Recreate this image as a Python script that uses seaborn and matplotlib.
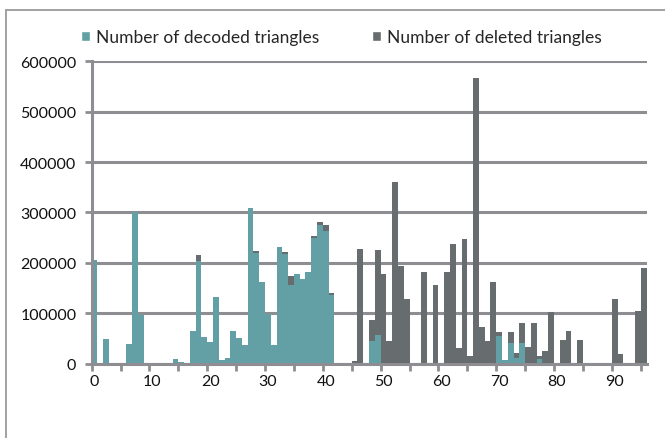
import numpy as np
import seaborn as sns
import matplotlib
matplotlib.use('Agg')
import matplotlib.pyplot as plt
from matplotlib.patches import Patch, Rectangle

# category index 0..95
positions = list(range(96))

# decoded triangles (teal)
decoded = [
    205000, 0, 48000, 0, 0, 0, 39000, 300000, 96000, 0,
    0, 0, 0, 0, 8000, 3000, 1000, 64000, 204000, 53000,
    42000, 133000, 6000, 11000, 65000, 51000, 37000, 308000, 220000, 161000,
    98000, 37000, 232000, 217000, 156000, 178000, 168000, 181000, 250000, 274000,
    264000, 136000, 0, 0, 0, 0, 0, 0, 45000, 56000,
    0, 0, 0, 0, 0, 0, 0, 0, 0, 0,
    0, 0, 0, 0, 0, 0, 0, 0, 0, 0,
    54000, 6000, 40000, 11000, 40000, 0, 0, 9000, 0, 0,
    0, 0, 0, 0, 0, 0, 0, 0, 0, 0,
    0, 0, 0, 0, 0, 0,
]

# deleted triangles (grey)
deleted = [
    0, 0, 0, 0, 0, 0, 0, 0, 0, 0,
    0, 0, 0, 0, 0, 0, 0, 0, 215000, 0,
    0, 0, 0, 0, 0, 0, 0, 0, 223000, 0,
    0, 0, 0, 221000, 174000, 0, 0, 0, 253000, 280000,
    275000, 140000, 0, 0, 0, 4000, 227000, 0, 87000, 226000,
    178000, 45000, 360000, 194000, 129000, 0, 0, 181000, 0, 156000,
    0, 181000, 237000, 30000, 247000, 15000, 566000, 73000, 45000, 161000,
    62000, 0, 62000, 21000, 81000, 33000, 81000, 15500, 25500, 101600,
    0, 47500, 64000, 0, 47000, 0, 0, 0, 0, 0,
    129000, 19000, 0, 0, 104000, 190000,
]

y_ticks = [0, 100000, 200000, 300000, 400000, 500000, 600000]
x_labels = list(range(0, 91, 10))

teal = '#62A0A5'
grey = '#676C6F'
line_grey = '#8E8E92'

sns.set_theme(style='white')
plt.rcParams['font.family'] = ['Lato', 'DejaVu Sans']

fig = plt.figure(figsize=(6.65, 4.39), dpi=100)
ax = fig.add_axes([91.6 / 665, 1 - 364.5 / 439, (646.5 - 91.6) / 665, (364.5 - 62.3) / 439])

# grey behind, teal in front
sns.barplot(x=positions, y=deleted, color=grey, width=1, saturation=1,
            linewidth=0, ax=ax)
sns.barplot(x=positions, y=decoded, color=teal, width=1, saturation=1,
            linewidth=0, ax=ax)

ax.set_xlim(-0.5, 95.5)
ax.set_ylim(0, 600000)
ax.set_yticks(y_ticks)
ax.set_yticklabels([str(v) for v in y_ticks])
ax.set_xticks(x_labels)
ax.set_xticklabels([str(v) for v in x_labels])
ax.set_xticks(np.arange(-0.5, 95, 5), minor=True)

ax.set_axisbelow(True)
ax.yaxis.grid(True, color=line_grey, linewidth=2.2)
ax.xaxis.grid(False)
for s in ['top', 'right']:
    ax.spines[s].set_visible(False)
for s in ['left', 'bottom']:
    ax.spines[s].set_color(line_grey)
    ax.spines[s].set_linewidth(2.2)

ax.tick_params(axis='y', which='major', length=5, width=2, color=line_grey,
               labelsize=11.5, labelcolor='#111111', pad=6, left=True)
ax.tick_params(axis='x', which='major', length=0, labelsize=11.5,
               labelcolor='#111111', pad=7.5)
ax.tick_params(axis='x', which='minor', length=5, width=2, color=line_grey,
               bottom=True)
ax.set_xlabel('')
ax.set_ylabel('')

handles = [Patch(facecolor=teal, label='Number of decoded triangles'),
           Patch(facecolor=grey, label='Number of deleted triangles')]
fig.legend(handles=handles, loc='center', bbox_to_anchor=(341.5 / 665, 1 - 38 / 439),
           ncol=2, frameon=False, fontsize=12.5, handlelength=0.55,
           handleheight=0.55, handletextpad=0.35, columnspacing=3.0)

# outer chart frame
fig.add_artist(Rectangle((6.4 / 665, -0.05), 1.0, 1 - 11 / 439 + 0.05,
                         transform=fig.transFigure, fill=False,
                         edgecolor='#9A9A9A', linewidth=1.3))

fig.savefig('out.png', dpi=100)
